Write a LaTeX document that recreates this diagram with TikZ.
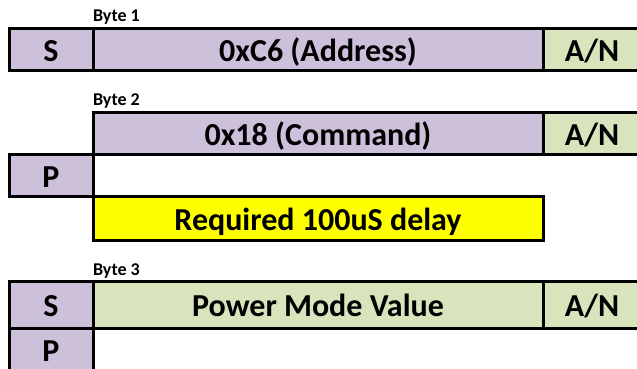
\documentclass[tikz,border=0pt]{standalone}
\usepackage{fontspec}
\setmainfont{Carlito}
\usetikzlibrary{positioning}
\begin{document}
\begin{tikzpicture}[x=1pt,y=1pt,
  cell/.style={draw=black,line width=3pt,inner sep=0pt,outer sep=0pt,
    minimum height=42pt,text height=23pt,text depth=0pt,
    font=\bfseries\fontsize{32}{32}\selectfont},
  bytelabel/.style={anchor=base west,inner sep=0pt,outer sep=0pt,
    font=\bfseries\fontsize{18}{18}\selectfont}]
\definecolor{frameColor}{RGB}{204,192,218}
\definecolor{ackColor}{RGB}{216,228,188}
\definecolor{delayColor}{RGB}{255,255,0}
\path[use as bounding box,fill=white] (0,0) rectangle (637,369);
\begin{scope}
\path[clip] (0,0) rectangle (637,369);

\node[bytelabel] (byte1) at (93,347) {Byte 1};
\node[cell,fill=frameColor,minimum width=84pt,anchor=north west] (start1) at (9,340) {S};
\node[cell,fill=frameColor,minimum width=450pt,right=0pt of start1] (addr) {0xC6 (Address)};
\node[cell,fill=ackColor,minimum width=98pt,right=0pt of addr] (ack1) {A/N};

\node[bytelabel] (byte2) at (93,263) {Byte 2};
\node[cell,fill=frameColor,minimum width=450pt,anchor=north west] (cmd) at (93,256) {0x18 (Command)};
\node[cell,fill=ackColor,minimum width=98pt,right=0pt of cmd] (ack2) {A/N};
\node[cell,fill=frameColor,minimum width=84pt,anchor=north east] (stop1) at (cmd.south west) {P};
\node[cell,fill=delayColor,minimum width=450pt,minimum height=44pt,anchor=north west] (delay) at (stop1.south east) {Required 100uS delay};

\node[bytelabel] (byte3) at (93,93) {Byte 3};
\node[cell,fill=frameColor,minimum width=84pt,minimum height=47pt,anchor=north west] (start2) at (9,87) {S};
\node[cell,fill=ackColor,minimum width=450pt,minimum height=47pt,right=0pt of start2] (mode) {Power Mode Value};
\node[cell,fill=ackColor,minimum width=98pt,minimum height=47pt,right=0pt of mode] (ack3) {A/N};
\node[cell,fill=frameColor,minimum width=84pt,below=0pt of start2] (stop2) {P};
\end{scope}
\end{tikzpicture}
\end{document}
